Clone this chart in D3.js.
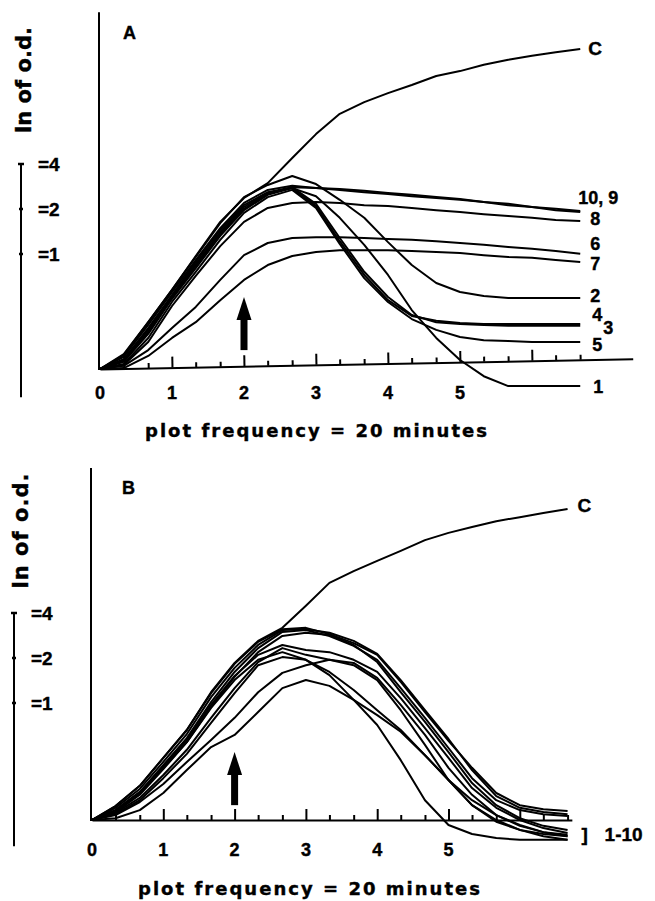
<!DOCTYPE html>
<html>
<head>
<meta charset="utf-8">
<script src="https://cdn.jsdelivr.net/npm/d3@7"></script>
<style>
  body { margin: 0; background: #fff; }
  svg { display: block; }
  text { font-family: "Liberation Sans", Arial, sans-serif; font-weight: bold; fill: #000; stroke: #000; stroke-width: 0.4px; }
  text.wide { font-family: "DejaVu Sans", sans-serif; }
</style>
</head>
<body>
<svg id="chart" width="655" height="901"></svg>
<script>
// sample times, one every 20 minutes (axis unit = 1 hour)
let times = [0, 0.33, 0.67, 1, 1.33, 1.67, 2, 2.33, 2.67, 3, 3.33, 3.67, 4, 4.33, 4.67, 5, 5.33, 5.67, 6, 6.33, 6.67];

// panel A, ln of o.d. in doublings above the start value
let a_C  = [0, 0.33, 1.04, 1.76, 2.51, 3.27, 3.80, 4.13, 4.69, 5.22, 5.67, 5.93, 6.13, 6.31, 6.51, 6.62, 6.76, 6.87, 6.96, 7.04, 7.11];
let a_1  = [0, 0.20, 0.87, 1.62, 2.33, 3.04, 3.60, 3.91, 4.02, 3.84, 3.36, 2.76, 2.09, 1.31, 0.69, 0.20, -0.16, -0.38, -0.38, -0.38, -0.38];
let a_2  = [0, 0.31, 1.04, 1.76, 2.49, 3.24, 3.82, 4.09, 4.29, 4.11, 3.76, 3.36, 2.82, 2.31, 1.91, 1.71, 1.62, 1.58, 1.58, 1.58, 1.58];
let a_3  = [0, 0.18, 0.82, 1.58, 2.29, 3.00, 3.56, 3.89, 4.04, 3.67, 2.91, 2.16, 1.60, 1.20, 1.04, 1.00, 0.98, 0.96, 0.96, 0.96, 0.96];
let a_4  = [0, 0.16, 0.78, 1.56, 2.24, 2.96, 3.53, 3.87, 4.02, 3.62, 2.84, 2.09, 1.53, 1.18, 1.07, 1.02, 1.00, 1.00, 1.00, 1.00, 1.00];
let a_5  = [0, 0.11, 0.69, 1.49, 2.16, 2.87, 3.47, 3.82, 3.98, 3.58, 2.78, 2.02, 1.49, 1.11, 0.87, 0.71, 0.64, 0.62, 0.60, 0.60, 0.60];
let a_6  = [0, 0.07, 0.42, 0.91, 1.38, 1.98, 2.53, 2.80, 2.91, 2.93, 2.93, 2.91, 2.89, 2.87, 2.84, 2.80, 2.76, 2.71, 2.67, 2.62, 2.56];
let a_7  = [0, 0.02, 0.29, 0.69, 1.04, 1.53, 1.98, 2.31, 2.51, 2.60, 2.64, 2.64, 2.64, 2.62, 2.60, 2.58, 2.53, 2.49, 2.47, 2.42, 2.38];
let a_8  = [0, 0.09, 0.60, 1.40, 2.07, 2.73, 3.27, 3.58, 3.69, 3.71, 3.69, 3.64, 3.62, 3.58, 3.53, 3.49, 3.44, 3.40, 3.36, 3.31, 3.29];
let a_9  = [0, 0.22, 0.91, 1.64, 2.38, 3.09, 3.64, 3.93, 4.04, 4.02, 4.00, 3.96, 3.91, 3.87, 3.82, 3.78, 3.71, 3.67, 3.60, 3.56, 3.51];
let a_10 = [0, 0.27, 0.98, 1.71, 2.42, 3.13, 3.69, 3.98, 4.07, 4.02, 3.98, 3.93, 3.89, 3.84, 3.80, 3.76, 3.71, 3.64, 3.60, 3.53, 3.49];

// panel B
let b_C  = [0, 0.31, 0.76, 1.38, 2.00, 2.84, 3.49, 3.98, 4.27, 4.76, 5.27, 5.53, 5.76, 5.98, 6.22, 6.38, 6.51, 6.64, 6.73, 6.82, 6.91];
let b_1  = [0, 0.31, 0.76, 1.38, 2.00, 2.82, 3.47, 3.96, 4.24, 4.27, 4.13, 3.93, 3.67, 3.07, 2.40, 1.76, 1.16, 0.60, 0.33, 0.24, 0.20];
let b_2  = [0, 0.27, 0.69, 1.29, 1.91, 2.73, 3.38, 3.89, 4.22, 4.24, 4.16, 3.98, 3.69, 3.11, 2.44, 1.80, 1.11, 0.53, 0.27, 0.18, 0.13];
let b_3  = [0, 0.22, 0.62, 1.22, 1.82, 2.62, 3.29, 3.82, 4.18, 4.22, 4.09, 3.87, 3.56, 2.93, 2.27, 1.60, 0.93, 0.44, 0.22, 0.13, 0.09];
let b_4  = [0, 0.18, 0.56, 1.13, 1.73, 2.51, 3.18, 3.73, 4.09, 4.16, 4.11, 3.89, 3.51, 2.84, 2.18, 1.51, 0.82, 0.33, 0.04, -0.13, -0.22];
let b_5  = [0, 0.16, 0.49, 1.00, 1.56, 2.27, 2.93, 3.51, 3.82, 3.67, 3.56, 3.44, 3.11, 2.44, 1.67, 0.89, 0.33, 0.00, -0.22, -0.36, -0.44];
let b_6  = [0, 0.13, 0.44, 0.93, 1.47, 2.16, 2.82, 3.44, 3.62, 3.56, 3.29, 2.89, 2.44, 2.00, 1.44, 0.89, 0.44, 0.11, -0.11, -0.27, -0.36];
let b_7  = [0, 0.11, 0.40, 0.80, 1.29, 1.78, 2.27, 2.84, 3.27, 3.44, 3.56, 3.49, 3.16, 2.56, 1.89, 1.16, 0.56, 0.11, -0.13, -0.27, -0.33];
let b_8  = [0, 0.04, 0.22, 0.60, 1.11, 1.62, 1.89, 2.40, 2.93, 3.11, 2.98, 2.67, 2.33, 1.96, 1.44, 0.89, 0.33, -0.04, -0.22, -0.31, -0.36];
let b_9  = [0, 0.18, 0.58, 1.16, 1.73, 2.49, 3.11, 3.56, 3.73, 3.56, 3.22, 2.67, 2.11, 1.33, 0.44, -0.11, -0.31, -0.40, -0.44, -0.44, -0.44];
let b_10 = [0, 0.22, 0.62, 1.18, 1.78, 2.56, 3.20, 3.67, 3.89, 3.78, 3.73, 3.56, 3.29, 2.71, 2.04, 1.38, 0.71, 0.27, 0.00, -0.18, -0.29];

// axis ticks and labels
let major_ticks = [1, 2, 3, 4, 5, 6];
let minor_ticks = [0.33, 0.67, 1.33, 1.67, 2.33, 2.67, 3.33, 3.67, 4.33, 4.67, 5.33, 5.67, 6.33, 6.67];
let tick_labels = [0, 1, 2, 3, 4, 5];

// scale bar marks (o.d. ratio)
let bar_marks = [4, 2, 1];
let bar_bottom = 0.11;

// arrow at 2 h: [time, foot, tip]
let arrow_A = [2, 0.42, 1.6];
let arrow_B = [2, 0.33, 1.51];

let svg = d3.select("#chart");

function draw_panel(p) {
  let g = svg.append("g");

  let x = d3.scaleLinear()
    .domain([0, p.axis_end])
    .range([p.ox, p.ox + p.unit_x * p.axis_end]);
  let y = d3.scaleLinear()
    .domain([0, 8])
    .range([p.oy, p.oy - 8 * 45]);

  // x axis, ticks pointing up
  let axis_g = g.append("g")
    .attr("transform", "rotate(" + p.tilt + "," + x(0) + "," + y(0) + ")");

  axis_g.append("g")
    .attr("transform", "translate(0," + y(0) + ")")
    .call(d3.axisBottom(x).tickValues(minor_ticks).tickSize(-5).tickSizeOuter(0).tickFormat(""));
  axis_g.append("g")
    .attr("transform", "translate(0," + y(0) + ")")
    .call(d3.axisBottom(x).tickValues(major_ticks).tickSize(-11).tickSizeOuter(0).tickFormat(""))
    .call(a => a.select(".domain").remove());
  axis_g.selectAll("path, line")
    .attr("stroke", "#000")
    .attr("stroke-width", 2);

  // y axis
  g.append("line")
    .attr("x1", x(0) - 1).attr("x2", x(0) - 1)
    .attr("y1", y(0) + 1).attr("y2", y(p.y_top))
    .attr("stroke", "#000")
    .attr("stroke-width", 2);

  g.selectAll(".tick-label")
    .data(tick_labels)
    .join("text")
    .attr("x", d => x(d))
    .attr("y", p.label_y)
    .attr("text-anchor", "middle")
    .attr("font-size", 18)
    .text(d => d);

  g.append("text")
    .classed("wide", true)
    .attr("x", p.title_x)
    .attr("y", p.title_y)
    .attr("font-size", 18)
    .attr("textLength", 342)
    .attr("lengthAdjust", "spacing")
    .text("plot frequency = 20 minutes");

  g.append("text")
    .attr("x", p.letter_x)
    .attr("y", p.letter_y)
    .attr("font-size", 18)
    .text(p.letter);

  // curves
  let line = d3.line()
    .x((d, i) => x(times[i]))
    .y(d => y(d));

  g.append("g")
    .selectAll("path")
    .data(p.series)
    .join("path")
    .attr("d", d => line(d.values))
    .attr("fill", "none")
    .attr("stroke", "#000")
    .attr("stroke-width", 2)
    .attr("stroke-linejoin", "round");

  // curve labels
  g.append("g")
    .selectAll("text")
    .data(p.labels)
    .join("text")
    .attr("x", d => x(times[times.length - 1]) + d.dx)
    .attr("y", d => y(d.values[d.values.length - 1]) + d.dy)
    .attr("font-size", d => d.size || 18)
    .text(d => d.text);

  // arrow
  let ar = p.arrow;
  let ax = x(ar[0]);
  let head = y(ar[2]) + 23;
  g.append("rect")
    .attr("x", ax - 3.5)
    .attr("y", head - 1)
    .attr("width", 7)
    .attr("height", y(ar[1]) - head + 1)
    .attr("fill", "#000");
  g.append("path")
    .attr("d", "M" + (ax - 7.5) + "," + head + "L" + ax + "," + y(ar[2]) + "L" + (ax + 7.5) + "," + head + "Z")
    .attr("fill", "#000");

  // scale bar on the left
  let bar = d3.scaleLog().base(2)
    .domain([1, 4])
    .range([p.bar_one, p.bar_one - 2 * 45]);
  g.append("line")
    .attr("x1", p.bar_x).attr("x2", p.bar_x)
    .attr("y1", bar(4)).attr("y2", bar(bar_bottom))
    .attr("stroke", "#000")
    .attr("stroke-width", 2);
  g.selectAll(".bar-mark")
    .data(bar_marks)
    .join("line")
    .attr("x1", d => p.bar_x - (d === 4 ? 3 : 2))
    .attr("x2", d => p.bar_x + (d === 4 ? 3 : 2))
    .attr("y1", d => bar(d))
    .attr("y2", d => bar(d))
    .attr("stroke", "#000")
    .attr("stroke-width", 2.5);
  g.selectAll(".bar-label")
    .data(bar_marks)
    .join("text")
    .attr("x", p.bar_x + 17)
    .attr("y", d => bar(d) + 7)
    .attr("font-size", 19)
    .text(d => "=" + d);

  g.append("text")
    .classed("wide", true)
    .attr("transform", "translate(" + p.ylab_x + "," + p.ylab_y + ") rotate(-90)")
    .attr("text-anchor", "middle")
    .attr("font-size", 21)
    .attr("textLength", p.ylab_len)
    .attr("lengthAdjust", "spacing")
    .text("ln of o.d.");

  return { g: g, x: x, y: y };
}

let panel_A = draw_panel({
  ox: 100, oy: 369, unit_x: 72, axis_end: 7.4, tilt: -1.1, y_top: 7.93,
  label_y: 399, title_x: 145, title_y: 437,
  letter: "A", letter_x: 123, letter_y: 39,
  bar_x: 21, bar_one: 254, ylab_x: 31, ylab_y: 80, ylab_len: 106,
  arrow: arrow_A,
  series: [a_C, a_1, a_2, a_3, a_4, a_5, a_6, a_7, a_8, a_9, a_10].map(v => ({ values: v })),
  labels: [
    { text: "C", values: a_C, dx: 8, dy: 6, size: 19 },
    { text: "10, 9", values: a_10, dx: -2, dy: -8 },
    { text: "8", values: a_8, dx: 10, dy: 4 },
    { text: "6", values: a_6, dx: 10, dy: -4 },
    { text: "7", values: a_7, dx: 10, dy: 8 },
    { text: "2", values: a_2, dx: 10, dy: 4 },
    { text: "4", values: a_4, dx: 12, dy: -3 },
    { text: "3", values: a_3, dx: 23, dy: 8 },
    { text: "5", values: a_5, dx: 12, dy: 9 },
    { text: "1", values: a_1, dx: 13, dy: 7 }
  ]
});

let panel_B = draw_panel({
  ox: 92, oy: 820, unit_x: 71.3, axis_end: 6.73, tilt: 0, y_top: 7.82,
  label_y: 856, title_x: 138, title_y: 895,
  letter: "B", letter_x: 122, letter_y: 494,
  bar_x: 14, bar_one: 703, ylab_x: 28, ylab_y: 531, ylab_len: 115,
  arrow: arrow_B,
  series: [b_C, b_1, b_2, b_3, b_4, b_5, b_6, b_7, b_8, b_9, b_10].map(v => ({ values: v })),
  labels: [
    { text: "C", values: b_C, dx: 10, dy: 3, size: 19 },
    { text: "]", values: [-0.3], dx: 14, dy: 7, size: 19 },
    { text: "1-10", values: [-0.3], dx: 37, dy: 7, size: 19 }
  ]
});
</script>
</body>
</html>
